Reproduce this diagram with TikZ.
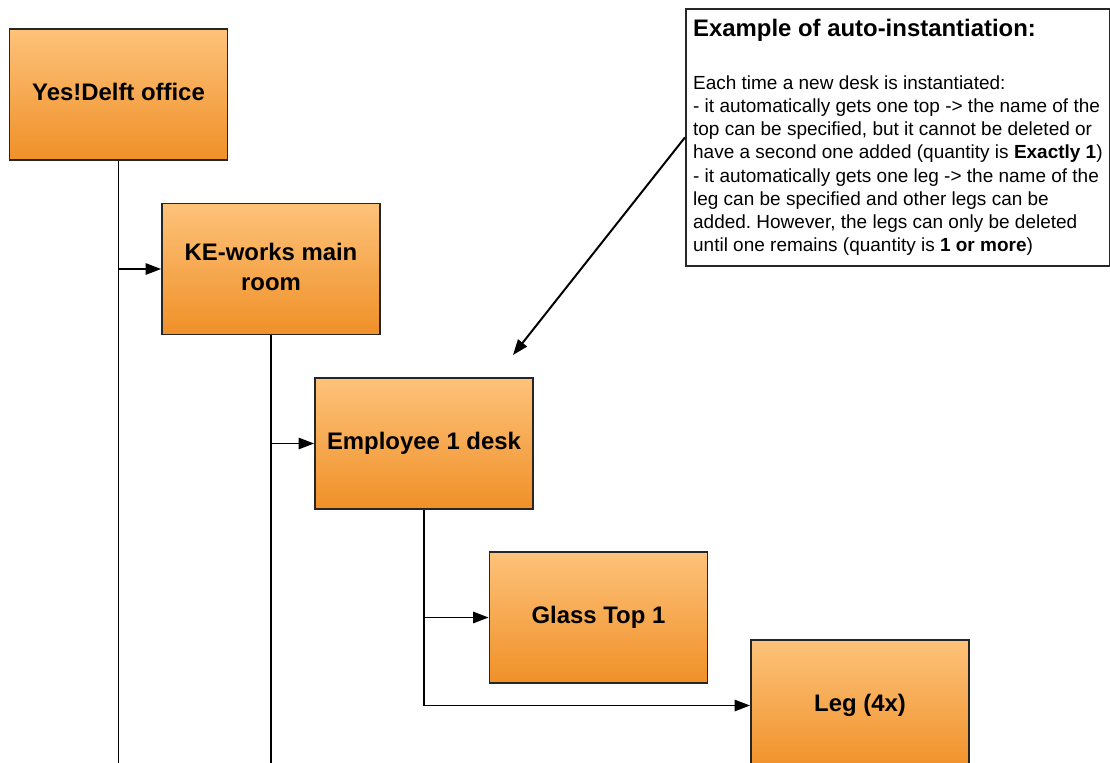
\documentclass[tikz,border=0pt]{standalone}
\usepackage{fontspec}
\setmainfont{Liberation Sans}
\usepackage{tikz}
\usetikzlibrary{positioning,arrows.meta}
\definecolor{boxtop}{RGB}{253,194,122}
\definecolor{boxbottom}{RGB}{240,144,40}

\begin{document}
\frenchspacing
\begin{tikzpicture}
	[
		x=0.025cm, y=-0.025cm,
		part/.style={draw=black!85, line width=1.2pt, top color=boxtop, middle color=boxtop, bottom color=boxbottom, minimum width=5.45cm, minimum height=3.275cm, inner sep=0pt, text depth=3.6pt, align=center, font=\fontsize{17pt}{21.3pt}\selectfont\bfseries},
		note/.style={draw=black!85, line width=1.2pt, fill=white, anchor=north west, minimum width=10.6cm, minimum height=6.425cm, inner sep=0.1cm, align=left, font=\fontsize{13.5pt}{16.55pt}\selectfont},
		link/.style={line width=1.4pt, -{Triangle[length=11pt,width=8pt]}},
		stem/.style={line width=1.4pt}
	]
	\useasboundingbox (0,0) rectangle (1110,762);
	\clip (0,0) rectangle (1110,762);

	\node(office) [part] at (118.5,94.5) {Yes!Delft office};
	\node(room) [part] at (271,269) {KE-works main\\room};
	\node(desk) [part] at (424,443.5) {Employee 1 desk};
	\node(top) [part] at (598.5,617.5) {Glass Top 1};
	\node(leg) [part] at (860,705.5) {Leg (4x)};

	\node(note) [note] at (685,8)
	{
		{\fontsize{17pt}{20pt}\selectfont\bfseries Example of auto-instantiation:}\\[21pt]
		Each time a new desk is instantiated:\\
		- it automatically gets one top -> the name of the\\
		top can be specified, but it cannot be deleted or\\
		have a second one added (quantity is \textbf{Exactly 1})\\
		- it automatically gets one leg -> the name of the\\
		leg can be specified and other legs can be\\
		added. However, the legs can only be deleted\\
		until one remains (quantity is \textbf{1 or more})
	};

	\coordinate(floor) at (0,775);
	\coordinate(noteend) at (513,355);

	\foreach \a in {office,room}
		\draw[stem] (\a.south) -- (\a.south |- floor);
	\foreach \a/\b in {office/room,room/desk,desk/top}
		\draw[link] (\a.south |- \b.west) -- (\b.west);
	\draw[link] (desk.south) |- (leg.west);
	\draw[link] (note.west) -- (noteend);
\end{tikzpicture}
\end{document}
